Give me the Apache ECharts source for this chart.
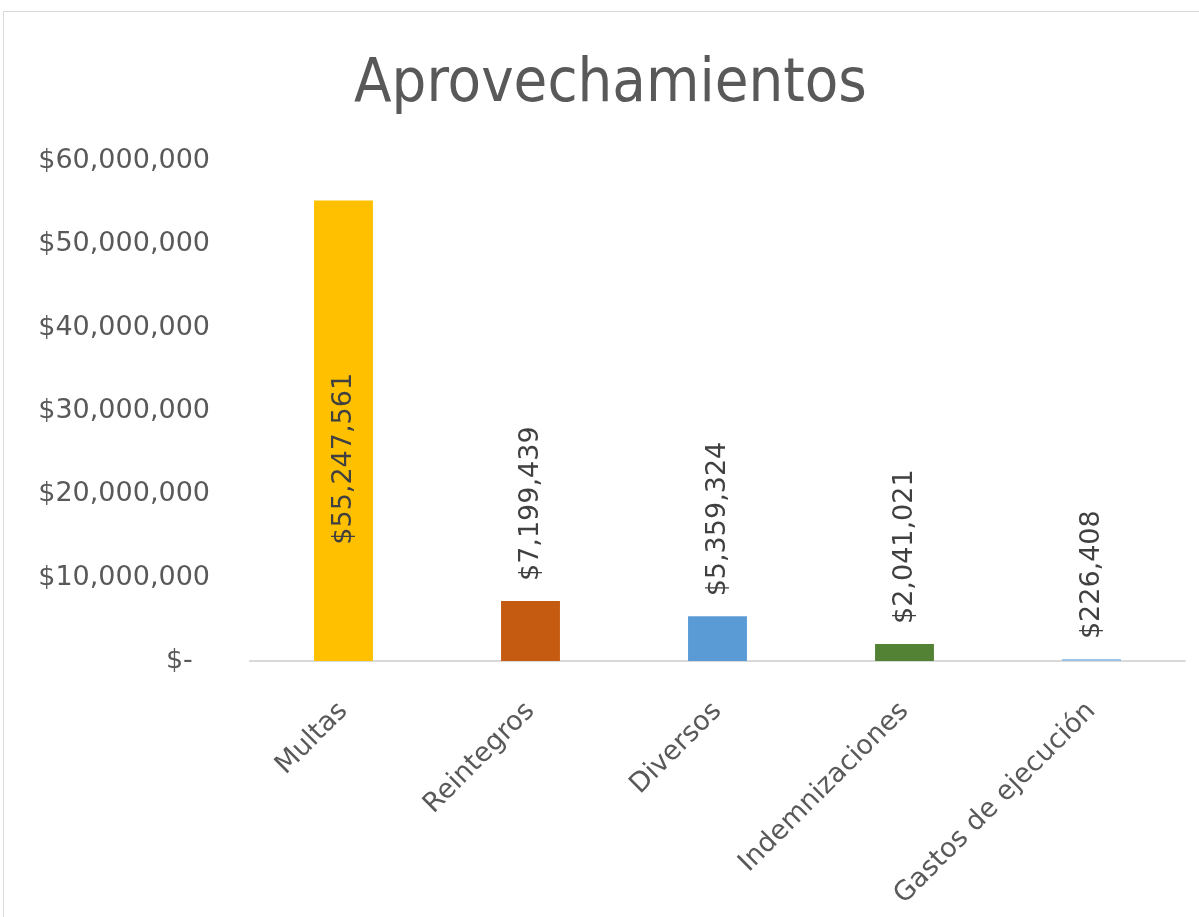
<!DOCTYPE html>
<html>
<head>
<meta charset="utf-8">
<script src="https://cdn.jsdelivr.net/npm/echarts@6/dist/echarts.min.js"></script>
<style>
  html, body { margin: 0; padding: 0; background: #fff; }
  #chart { width: 1199px; height: 917px; }
</style>
</head>
<body>
<div id="chart"></div>
<script>
// datos del gráfico
const categories = ["Multas", "Reintegros", "Diversos", "Indemnizaciones", "Gastos de ejecución"];
const values = [55247561, 7199439, 5359324, 2041021, 226408];
const barColors = ["#FFC000", "#C55A11", "#5B9BD5", "#548235", "#9DC3E6"];
const yTicks = [0, 10000000, 20000000, 30000000, 40000000, 50000000, 60000000];

const fmtMoney = (v) => v === 0 ? "$-  " : "$" + v.toLocaleString("en-US");

const myChart = echarts.init(document.getElementById("chart"));

const option = {
  backgroundColor: "#ffffff",
  textStyle: { fontFamily: "DejaVu Sans" },
  title: {
    text: "Aprovechamientos",
    left: 354,
    top: 55,
    padding: 0,
    textStyle: {
      fontFamily: "'DejaVu Sans Condensed', 'DejaVu Sans'",
      fontSize: 61,
      fontWeight: "normal",
      color: "#595959"
    }
  },
  graphic: [
    {
      type: "rect",
      shape: { x: 3.5, y: 11.5, width: 1300, height: 1000 },
      style: { fill: "none", stroke: "#d9d9d9", lineWidth: 1 },
      silent: true
    }
  ],
  grid: {
    left: 250,
    right: 14,
    top: 161,
    bottom: 256,
    containLabel: false
  },
  xAxis: {
    type: "category",
    data: categories,
    axisLine: { show: true, lineStyle: { color: "#d9d9d9", width: 2 } },
    axisTick: { show: false },
    axisLabel: {
      rotate: 45,
      interval: 0,
      margin: 46,
      fontSize: 27,
      color: "#595959"
    }
  },
  yAxis: {
    type: "value",
    min: yTicks[0],
    max: yTicks[yTicks.length - 1],
    interval: yTicks[1] - yTicks[0],
    splitLine: { show: false },
    axisLine: { show: false },
    axisTick: { show: false },
    axisLabel: {
      margin: 40,
      fontSize: 27,
      color: "#595959",
      formatter: fmtMoney
    }
  },
  series: [
    {
      type: "bar",
      barWidth: "31.5%",
      data: values.map((v, i) => ({
        value: v,
        itemStyle: { color: barColors[i] },
        label: i === 0
          ? { position: "inside", rotate: 90, align: "center", verticalAlign: "middle", offset: [-28, 0] }
          : { position: "top", rotate: 90, align: "left", verticalAlign: "middle", distance: 20 }
      })),
      label: {
        show: true,
        fontSize: 27,
        color: "#404040",
        formatter: (p) => fmtMoney(p.value)
      }
    }
  ]
};

myChart.setOption(option);
</script>
</body>
</html>
